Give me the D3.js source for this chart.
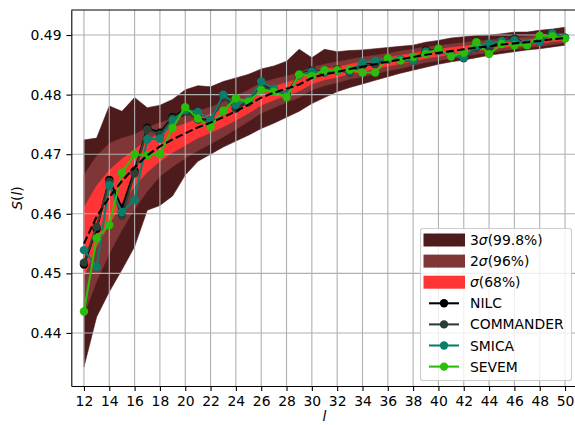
<!DOCTYPE html>
<html><head><meta charset="utf-8">
<script src="https://cdn.jsdelivr.net/npm/d3@7"></script>
<style>body{margin:0;background:#fff}svg{display:block;font-family:"DejaVu Sans",sans-serif}</style>
</head><body><svg id="c" width="575" height="425"></svg>
<script>
const ells = [12,13,14,15,16,17,18,19,20,21,22,23,24,25,26,27,28,29,30,31,32,33,34,35,36,37,38,39,40,41,42,43,44,45,46,47,48,49,50];
const meanS = [.4550,.4595,.4628,.4655,.4678,.4698,.4713,.4725,.4735,.4745,.4753,.4762,.4772,.4783,.4795,.4803,.4810,.4817,.4828,.4834,.4838,.4843,.4847,.4851,.4855,.4859,.4863,.4867,.4870,.4873,.4876,.4879,.4881,.4884,.4886,.4888,.4890,.4893,.4895];
const sig3Hi = [.4724,.4727,.4781,.4772,.4795,.4778,.4782,.4792,.4808,.4815,.4813,.4822,.4828,.4834,.4843,.4848,.4856,.4876,.4862,.4876,.4872,.4874,.4875,.4877,.4879,.4881,.4883,.4888,.4891,.4895,.4897,.4899,.4900,.4902,.4905,.4905,.4908,.4910,.4913];
const sig3Lo = [.4343,.4427,.4469,.4506,.4545,.4606,.4614,.4630,.4665,.4688,.4700,.4712,.4722,.4732,.4743,.4752,.4762,.4772,.4785,.4795,.4805,.4812,.4818,.4824,.4830,.4836,.4841,.4846,.4851,.4855,.4858,.4862,.4866,.4869,.4872,.4875,.4877,.4880,.4883];
const sig2Hi = [.4665,.4697,.4718,.4727,.4733,.4745,.4753,.4759,.4763,.4772,.4779,.4788,.4797,.4808,.4820,.4826,.4831,.4837,.4846,.4851,.4855,.4859,.4863,.4866,.4869,.4873,.4876,.4880,.4882,.4885,.4887,.4890,.4891,.4894,.4896,.4897,.4899,.4902,.4903];
const sig2Lo = [.4430,.4487,.4533,.4573,.4608,.4638,.4663,.4679,.4693,.4706,.4717,.4729,.4742,.4755,.4769,.4778,.4787,.4795,.4808,.4815,.4820,.4826,.4830,.4835,.4840,.4844,.4849,.4854,.4857,.4861,.4864,.4868,.4870,.4874,.4876,.4879,.4881,.4884,.4887];
const sig1Hi = [.4610,.4647,.4673,.4692,.4708,.4724,.4735,.4744,.4751,.4760,.4767,.4775,.4785,.4795,.4807,.4814,.4820,.4827,.4837,.4843,.4846,.4851,.4855,.4858,.4862,.4866,.4869,.4873,.4876,.4879,.4881,.4884,.4886,.4889,.4891,.4892,.4894,.4897,.4899];
const sig1Lo = [.4495,.4545,.4583,.4617,.4646,.4670,.4688,.4703,.4715,.4727,.4736,.4746,.4757,.4769,.4782,.4791,.4799,.4806,.4818,.4825,.4829,.4835,.4839,.4843,.4848,.4852,.4856,.4861,.4864,.4867,.4870,.4874,.4876,.4879,.4881,.4883,.4886,.4889,.4891];
const nilc = [.4515,.4575,.4657,.4610,.4672,.4744,.4736,.4762,.4774,.4760,.4757,.4798,.4777,.4788,.4815,.4808,.4800,.4834,.4840,.4838,.4842,.4838,.4850,.4852,.4860,.4858,.4858,.4874,.4875,.4866,.4862,.4880,.4878,.4890,.4894,.4885,.4892,.4903,.4895];
const commander = [.4518,.4578,.4654,.4597,.4668,.4742,.4733,.4760,.4772,.4758,.4755,.4797,.4777,.4787,.4814,.4807,.4799,.4833,.4839,.4837,.4841,.4837,.4849,.4851,.4859,.4857,.4857,.4873,.4874,.4865,.4861,.4879,.4877,.4889,.4893,.4884,.4891,.4902,.4895];
const smica = [.4539,.4511,.4648,.4603,.4623,.4725,.4726,.4757,.4774,.4771,.4757,.4800,.4783,.4790,.4822,.4810,.4800,.4833,.4839,.4838,.4840,.4840,.4854,.4857,.4860,.4859,.4857,.4872,.4874,.4866,.4862,.4882,.4886,.4890,.4891,.4886,.4889,.4903,.4896];
const sevem = [.4436,.4559,.4581,.4669,.4700,.4698,.4700,.4744,.4779,.4760,.4746,.4773,.4794,.4788,.4808,.4805,.4796,.4834,.4831,.4841,.4841,.4842,.4837,.4837,.4861,.4857,.4863,.4868,.4877,.4864,.4870,.4888,.4868,.4885,.4883,.4883,.4899,.4898,.4894];
const xTicks = [12,14,16,18,20,22,24,26,28,30,32,34,36,38,40,42,44,46,48,50];
const yTicks = [0.44,0.45,0.46,0.47,0.48,0.49];
const bandNames = ["3\u03c3(99.8%)","2\u03c3(96%)","\u03c3(68%)"];
const seriesNames = ["NILC","COMMANDER","SMICA","SEVEM"];

const bandColors = ["#4d1b1b","#803636","#ff3535"];
const seriesColors = ["#000000","#2b4034","#0b7e6b","#2cbc0a"];

const svg = d3.select("#c");
const L = 71.3, R = 577.7, T = 10, B = 386;
const x = d3.scaleLinear().domain([11, 51]).range([L, R]);
const y = d3.scaleLinear().domain([0.4311, 0.4942]).range([B, T]);
const FS = 13.9;

svg.append("defs").append("clipPath").attr("id","clip")
  .append("rect").attr("x",L).attr("y",T).attr("width",R-L).attr("height",B-T);
const plot = svg.append("g").attr("clip-path","url(#clip)");

const idx = ells.map((_,i)=>i);
const bands = [[sig3Lo,sig3Hi],[sig2Lo,sig2Hi],[sig1Lo,sig1Hi]];
bands.forEach((b,k)=>{
  const area = d3.area().x(i=>x(ells[i])).y0(i=>y(b[0][i])).y1(i=>y(b[1][i]));
  plot.append("path").attr("d",area(idx)).attr("fill",bandColors[k])
    .attr("stroke",bandColors[k]).attr("stroke-width",0.6);
});

// grid
const grid = plot.append("g").attr("stroke","#b0b0b0").attr("stroke-width",1.1);
xTicks.forEach(t=>grid.append("line").attr("x1",x(t)).attr("x2",x(t)).attr("y1",T).attr("y2",B));
yTicks.forEach(t=>grid.append("line").attr("x1",L).attr("x2",R).attr("y1",y(t)).attr("y2",y(t)));

const allSeries = [nilc, commander, smica, sevem];
const line = d3.line().x(i=>x(ells[i]));
allSeries.forEach((s,k)=>{
  plot.append("path").attr("d",line.y(i=>y(s[i]))(idx)).attr("fill","none")
    .attr("stroke",seriesColors[k]).attr("stroke-width",2.08).attr("stroke-linejoin","round");
  plot.append("g").selectAll("circle").data(idx).join("circle")
    .attr("cx",i=>x(ells[i])).attr("cy",i=>y(s[i])).attr("r",4.2)
    .attr("fill",seriesColors[k]);
});
plot.append("path").attr("d",line.y(i=>y(meanS[i]))(idx)).attr("fill","none")
  .attr("stroke","#000").attr("stroke-width",2.08).attr("stroke-dasharray","7.7,3.3");

// axes
const xa = svg.append("g").attr("transform",`translate(0,${B})`)
  .call(d3.axisBottom(x).tickValues(xTicks).tickFormat(d3.format("d")).tickSize(4.9).tickPadding(4.9).tickSizeOuter(0));
const ya = svg.append("g").attr("transform",`translate(${L},0)`)
  .call(d3.axisLeft(y).tickValues(yTicks).tickFormat(d3.format(".2f")).tickSize(4.9).tickPadding(4.9).tickSizeOuter(0));
[xa,ya].forEach(a=>{
  a.selectAll("text").attr("font-size",FS).attr("font-family","DejaVu Sans").attr("fill","#000");
  a.selectAll("line").attr("stroke","#000").attr("stroke-width",1.1);
  a.select(".domain").attr("stroke","#000").attr("stroke-width",1.1);
});
svg.append("line").attr("x1",L).attr("x2",R).attr("y1",T).attr("y2",T).attr("stroke","#000").attr("stroke-width",1.1);

svg.append("text").attr("x",(L+R)/2).attr("y",421).attr("text-anchor","middle")
  .attr("font-size",FS).attr("font-style","italic").text("l");
const yl = svg.append("text").attr("transform","translate(22,198) rotate(-90)").attr("text-anchor","middle")
  .attr("font-size",FS);
yl.append("tspan").attr("font-style","italic").text("S");
yl.append("tspan").text("(");
yl.append("tspan").attr("font-style","italic").text("l");
yl.append("tspan").text(")");

// legend
const lg = svg.append("g");
lg.append("rect").attr("x",420.5).attr("y",228.5).attr("width",151).attr("height",152).attr("rx",2.8)
  .attr("fill","#fff").attr("fill-opacity",0.8).attr("stroke","#cccccc").attr("stroke-width",1.1);
const rowY = k => 240 + k*21.1;
bandNames.forEach((n,k)=>{
  lg.append("rect").attr("x",423.5).attr("y",rowY(k)-6.5).attr("width",41.5).attr("height",13).attr("fill",bandColors[k]);
  const t = lg.append("text").attr("x",470).attr("y",rowY(k)+5).attr("font-size",FS);
  const m = n.match(/^(\d?)(\u03c3)(.*)$/);
  if(m[1]) t.append("tspan").text(m[1]);
  t.append("tspan").attr("font-style","italic").text(m[2]);
  t.append("tspan").text(m[3]);
});
seriesNames.forEach((n,j)=>{
  const k = j+3, yy = rowY(k);
  lg.append("line").attr("x1",429).attr("x2",459).attr("y1",yy).attr("y2",yy).attr("stroke",seriesColors[j]).attr("stroke-width",2.08);
  lg.append("circle").attr("cx",444).attr("cy",yy).attr("r",4.2).attr("fill",seriesColors[j]);
  lg.append("text").attr("x",470).attr("y",yy+5).attr("font-size",FS).text(n);
});
</script></body></html>
